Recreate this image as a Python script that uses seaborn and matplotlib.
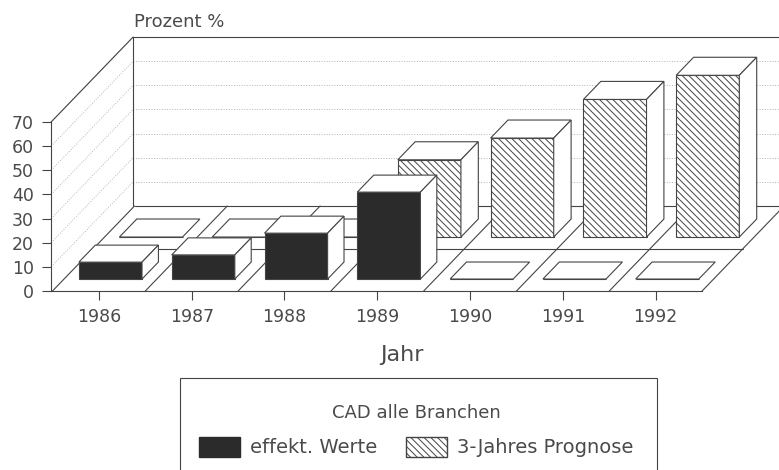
import matplotlib
matplotlib.use("Agg")
import matplotlib.pyplot as plt
import seaborn as sns
import pandas as pd
from matplotlib.patches import Patch, Rectangle

years = [1986, 1987, 1988, 1989, 1990, 1991, 1992]
effekt = [7, 10, 19, 36, 0, 0, 0]
prognose = [0, 0, 0, 32, 41, 57, 67]
yticks = [0, 10, 20, 30, 40, 50, 60, 70]

W, H = 779, 470
line_col = "#444444"
text_col = "#4a4a4a"
dark = "#2b2b2b"
hatch = "\\" * 5

# pixel mapping of the plane of the front axis
X0, XS = 98.9, 92.8
Y0, YS = 291, 2.414
# depth of the floor in data units
DX = 82 / XS
DY = 85 / YS
BAR_W = 0.68


def proj(x, d, v=0):
    return x + d * DX, v + d * DY


def poly(ax, pts, z, fc="white"):
    xs, ys = zip(*pts)
    ax.fill(xs, ys, facecolor=fc, edgecolor=line_col, lw=0.8, zorder=z)


def line(ax, a, b, z=1, **kw):
    kw.setdefault("color", line_col)
    kw.setdefault("lw", 0.8)
    ax.plot([a[0], b[0]], [a[1], b[1]], zorder=z, **kw)


def bars_row(ax, values, d0, d1, z, color, hatch=None):
    base = proj(0, d0)[1]
    df = pd.DataFrame({"x": [i + d0 * DX for i in range(len(values))], "v": values})
    sns.barplot(data=df, x="x", y="v", native_scale=True, width=BAR_W, bottom=base,
                color=color, saturation=1, edgecolor=line_col, linewidth=0.8,
                hatch=hatch, errorbar=None, zorder=z, ax=ax)
    for i, v in enumerate(values):
        l, r = i - BAR_W / 2, i + BAR_W / 2
        poly(ax, [proj(l, d0, v), proj(r, d0, v), proj(r, d1, v), proj(l, d1, v)], z)
        if v > 0:
            poly(ax, [proj(r, d0, 0), proj(r, d1, 0), proj(r, d1, v), proj(r, d0, v)], z)


sns.set_theme(style="white")
plt.rcParams["font.family"] = ["DejaVu Sans"]
plt.rcParams["hatch.linewidth"] = 0.7

fig = plt.figure(figsize=(W / 100, H / 100), dpi=100)
ax = fig.add_axes([0, 0, 1, 1])
ax.patch.set_alpha(0)

idx = list(range(len(years)))
left, right = -0.5, 6.5

# walls and grid
for v in yticks[1:]:
    line(ax, proj(-0.515, 0, v), proj(-0.515, 1, v), color="#b5b5b5", lw=0.7, ls=":")
    if v < 70:
        line(ax, proj(-0.515, 1, v), proj(8, 1, v), color="#b5b5b5", lw=0.7, ls=":")
line(ax, proj(-0.515, 0, 70), proj(-0.515, 1, 70))
line(ax, proj(-0.515, 1, 70), proj(8, 1, 70))
line(ax, proj(-0.515, 1, 0), proj(-0.515, 1, 70))

# floor
line(ax, proj(left, 0), proj(left, 1))
line(ax, proj(left, 1), proj(8, 1))
line(ax, proj(left, 0.5), proj(right, 0.5))
for i in idx:
    line(ax, proj(i + 0.5, 0), proj(i + 0.5, 1))

bars_row(ax, prognose, 0.635, 0.847, 3, "white", hatch=hatch)
bars_row(ax, effekt, 0.141, 0.341, 5, dark)

ax.set_xlim((0 - X0) / XS, (W - X0) / XS)
ax.set_ylim((Y0 - H) / YS, Y0 / YS)

for s in ["top", "right"]:
    ax.spines[s].set_visible(False)
ax.spines["left"].set_position(("data", -0.515))
ax.spines["left"].set_bounds(0, 70)
ax.spines["bottom"].set_position(("data", 0))
ax.spines["bottom"].set_bounds(-0.515, right)
for s in ["left", "bottom"]:
    ax.spines[s].set_color(line_col)
    ax.spines[s].set_linewidth(0.8)
    ax.spines[s].set_zorder(6)
ax.set_xticks(idx, labels=years)
ax.set_yticks(yticks)
ax.tick_params(axis="both", length=6.5, width=0.8, color=line_col, labelcolor=text_col,
               labelsize=12.5, left=True, bottom=True)
ax.tick_params(axis="x", pad=5.5)
ax.tick_params(axis="y", pad=6)

ax.set_ylabel("")
ax.set_xlabel("Jahr", fontsize=16, color=text_col)
ax.xaxis.set_label_coords(402 / W, 1 - 345 / H)
ax.text(134 / W, 1 - 22 / H, "Prozent %", transform=ax.transAxes, fontsize=13,
        color=text_col, va="center", ha="left")

# legend box runs off the bottom of the page
ax.add_patch(Rectangle((180 / W, -0.02), 477 / W, 1 - 378 / H + 0.02, transform=ax.transAxes,
                       facecolor="white", edgecolor=line_col, lw=0.8, zorder=7, clip_on=True))
handles = [Patch(facecolor=dark, edgecolor=dark, label="effekt. Werte"),
           Patch(facecolor="white", edgecolor=line_col, hatch=hatch, label="3-Jahres Prognose")]
leg = ax.legend(handles=handles, title="CAD alle Branchen", ncol=2, loc="upper left",
                bbox_to_anchor=(199 / W, 1 - 404 / H), frameon=False, fontsize=14,
                title_fontsize=13, borderaxespad=0, borderpad=0, handlelength=2.1,
                handleheight=1.25, handletextpad=0.5, columnspacing=1.5,
                labelcolor=text_col, labelspacing=0.75)
leg.get_title().set_color(text_col)
leg.set_zorder(8)

fig.savefig("out.png", dpi=100)
